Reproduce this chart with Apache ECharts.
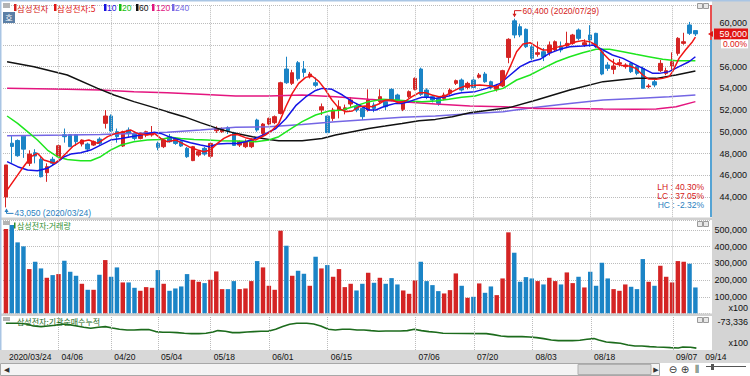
<!DOCTYPE html>
<html>
<head>
<meta charset="utf-8">
<script src="https://cdn.jsdelivr.net/npm/echarts@6/dist/echarts.min.js"></script>
<style>
html, body { margin: 0; padding: 0; background: #fff; }
#chart { width: 750px; height: 376px; }
</style>
</head>
<body>
<div id="chart"></div>
<script>
// trading days shown on the chart (last two slots are empty room on the right)
var dates = ['03/24','03/25','03/26','03/27','03/30','03/31',
  '04/01','04/02','04/03','04/06','04/07','04/08','04/09','04/10','04/13','04/14','04/16','04/17','04/20','04/21','04/22','04/23','04/24','04/27','04/28','04/29',
  '05/04','05/06','05/07','05/08','05/11','05/12','05/13','05/14','05/15','05/18','05/19','05/20','05/21','05/22','05/25','05/26','05/27','05/28','05/29',
  '06/01','06/02','06/03','06/04','06/05','06/08','06/09','06/10','06/11','06/12','06/15','06/16','06/17','06/18','06/19','06/22','06/23','06/24','06/25','06/26','06/29','06/30',
  '07/01','07/02','07/03','07/06','07/07','07/08','07/09','07/10','07/13','07/14','07/15','07/16','07/17','07/20','07/21','07/22','07/23','07/24','07/27','07/28','07/29','07/30','07/31',
  '08/03','08/04','08/05','08/06','08/07','08/10','08/11','08/12','08/13','08/14','08/18','08/19','08/20','08/21','08/24','08/25','08/26','08/27','08/28','08/31',
  '09/01','09/02','09/03','09/04','09/07','09/08','09/09','09/10','09/11','09/14',''];
var labelDays = [0, 9, 18, 26, 35, 45, 55, 70, 80, 90, 100, 114, 119];
var gridDays = [9, 18, 26, 35, 45, 55, 70, 80, 90, 100, 114];
var hiddenPriceTicks = [58000]; // covered by the current price tag

var opens = [44000,48950,49200,49600,47100,48080,47470,46240,47470,47710,
  49730,49730,49730,48870,48870,48780,49330,50775,51450,50010,
  48690,50160,49850,49390,49700,49700,48930,48630,49550,49400,
  49090,48480,47350,47860,48480,47740,50100,50000,50400,49900,
  48780,48630,48630,51080,49850,50710,50840,51690,55770,54450,
  56350,55770,55060,54510,52000,51450,51230,52000,52000,52550,
  52370,52150,52000,52460,52770,52770,53900,53380,52060,53230,
  53900,55770,53840,53230,53080,53070,53540,54450,54760,54080,
  54760,55010,55310,54600,53900,54210,56840,60200,59660,59420,
  57820,57120,57360,57270,57520,57820,57890,58130,59360,57980,
  58900,59050,57360,56140,55740,56230,55990,56290,55990,55830,
  54150,54600,55620,55370,56050,57210,58130,59820,59300];
var closes = [46950,48650,47800,48400,47950,47770,45870,46790,47100,48720,
  49550,48630,49090,49240,48410,49090,48935,51450,50070,49550,
  50010,49850,49390,49850,50010,49900,48570,49240,49090,48930,
  48690,47710,48630,48170,47950,48930,50310,50220,50100,48750,
  49090,49090,49240,50160,50710,51230,51390,54510,54510,55430,
  54880,55460,55310,54270,52300,49920,52000,52300,52200,52920,
  52000,51390,52920,52150,53230,52310,52920,52770,52770,53690,
  54910,53440,53230,52920,52610,53380,53840,54700,53840,54450,
  54080,55220,54600,54080,54210,55620,58500,58900,58900,57820,
  56750,57270,56900,57980,58280,57520,58130,58900,58590,58190,
  58440,57820,55310,55830,56050,56350,56140,55530,55370,54000,
  54210,54300,56290,55620,56440,58590,58280,59050,59000];
var lows = [43050,47150,47700,47600,46850,47100,45800,45400,46950,47560,
  49000,48600,48700,48650,48150,48700,48800,50300,50000,49000,
  48600,49500,49200,49300,49500,49550,48300,48500,49000,48800,
  48600,47600,47300,47700,47800,47600,49900,49900,49800,48700,
  48600,48500,48500,50000,49700,50600,50700,51600,54400,54300,
  54700,55000,54900,54100,51540,49900,51000,51230,51600,52300,
  51800,51100,51850,51800,52600,52000,52800,52600,51900,53100,
  53800,53300,53000,52700,52400,52900,53400,54300,53700,53900,
  53900,54900,54500,53900,53700,54100,56300,58600,58700,57700,
  56600,56900,56500,57000,57400,57300,57800,58000,58400,57800,
  57800,57700,55200,55600,55300,56000,55800,55400,55200,54000,
  54000,54100,55500,55200,55700,57000,58000,58900,58800];
var highs = [46950,49600,49300,49700,48300,48400,47700,47100,47700,48850,
  50300,49800,49800,49300,49000,49200,49500,52000,51600,50300,
  50100,50400,50000,49950,50100,50530,49100,49300,49800,49500,
  49200,48600,48700,48300,48600,49000,50500,50400,50500,50000,
  49200,49300,49400,51200,50800,51300,51500,54600,56900,55700,
  56500,56500,55500,55000,52600,51500,52200,52900,52500,53200,
  52600,52300,53900,52700,53900,53000,54000,53500,52900,53800,
  55000,55900,54000,53400,53200,53600,54000,54800,54900,54600,
  55000,55400,55500,54700,54400,55700,58600,60400,59900,59500,
  58000,58300,57700,58300,58400,58300,59200,59000,59500,58500,
  59800,59100,57500,56400,56700,56700,56300,56400,56100,56000,
  54400,54800,56600,55900,57300,58700,59100,60100,59300];
// volume, in units of 100 shares
var volumes = [506000,530000,426000,402000,266000,310000,270000,214000,230000,236000,
  316000,250000,226000,178000,142000,142000,232000,320000,220000,276000,
  186000,186000,154000,136000,158000,154000,260000,178000,136000,150000,
  162000,236000,202000,190000,182000,202000,252000,146000,146000,194000,
  146000,150000,194000,314000,276000,166000,142000,496000,406000,226000,
  256000,238000,166000,340000,270000,290000,220000,266000,158000,178000,
  138000,178000,244000,184000,214000,178000,212000,174000,138000,118000,
  198000,310000,194000,170000,134000,120000,140000,240000,166000,94000,
  100000,180000,124000,162000,110000,210000,486000,364000,190000,218000,
  210000,194000,174000,214000,194000,174000,246000,182000,220000,156000,
  250000,166000,304000,210000,146000,136000,174000,160000,146000,326000,
  190000,166000,286000,220000,186000,314000,310000,298000,156000];

// moving averages: [day index, price]
var ma5 = [[0.2,44640],[2.6,46480],[4.3,47710],[5.4,48020],[6.5,47400],[8.3,47100],[9.1,47400],[10.3,48020],[11.4,48630],[12.8,49090],[14.2,49240],[15.7,48930],[17.4,49550],[18.8,49850],[20.2,50010],[21.4,50160],[22.5,49850],[24.2,49700],[25.4,49850],[26.5,49390],[27.6,49090],[29.1,49240],[30.2,48930],[31.3,48630],[32.8,48320],[33.9,48170],[35,48320],[36.2,48930],[37.3,49390],[38.5,49700],[39.6,49750],[41,49460],[42.7,49240],[44.4,49700],[45.6,50160],[46.7,50770],[47.9,52300],[49,53530],[50.1,54450],[51.3,55000],[52.4,55130],[53.6,54610],[54.7,53840],[55.8,52920],[57,52150],[58.1,51850],[59.3,51910],[60.4,52310],[61.5,52370],[62.7,52310],[63.8,52550],[64.9,52920],[66.1,52920],[67.2,52670],[68.4,52830],[69.5,53230],[70.7,53590],[71.8,53590],[72.9,53380],[74.1,53230],[75.2,53290],[76.4,53690],[77.5,53990],[78.6,54210],[81.1,54300],[83,54210],[84,54080],[85.1,54600],[86.3,55985],[87.4,57360],[88.5,58070],[89.7,58190],[90.8,57820],[91.9,57520],[93,57520],[94.2,57760],[95.3,57890],[96.5,58070],[97.6,58280],[98.7,58380],[99.9,58280],[101,57980],[102.2,57210],[103.3,56600],[104.4,56230],[105.6,56080],[106.7,56050],[107.8,55830],[109,55220],[110,54850],[111.3,54820],[112.4,54910],[113.5,55070],[114.1,55530],[115.2,56750],[116.3,57520],[117.5,58280],[118,58700]];
var ma10 = [[0.2,47250],[2,46790],[3.7,46480],[5.4,46420],[7.1,46640],[8.5,47100],[10,47710],[11.1,47950],[12.8,48080],[14.5,48320],[16.2,48780],[17.9,49240],[19.7,49390],[21.4,49550],[23.1,49700],[25.4,49950],[26.5,49850],[28.2,49490],[29.9,49240],[31.6,49000],[33.3,48780],[34.8,48630],[36.2,48870],[37.9,48930],[39.6,48930],[41,49090],[42.7,49390],[44.4,49800],[46.2,50300],[47.9,51200],[49.6,52400],[51.3,53200],[53,53800],[54.1,53990],[55.8,53900],[57.6,53380],[59.3,52770],[61,52310],[62.1,52000],[63.3,52000],[64.4,52250],[65.6,52460],[66.7,52610],[67.8,52610],[69,52770],[70.1,52980],[71.2,53170],[72.4,53170],[73.5,53070],[74.6,53170],[75.8,53290],[76.9,53470],[78,53590],[80.3,53690],[82.3,53990],[84.6,54450],[86.3,55220],[88,55985],[89.7,56440],[91.4,56660],[93,57210],[94.8,57580],[96.5,57820],[98.7,57890],[100.5,57980],[102.2,57520],[103.8,57060],[105.6,56750],[107.3,56290],[109,55830],[110.7,55370],[111.8,55370],[113.5,55530],[115.2,55985],[116.9,56440],[118,56900]];
var ma20 = [[0.2,51450],[2,50770],[3.7,50010],[5.4,49240],[7.1,48320],[8.8,47710],[10.5,47460],[12.8,47340],[14.5,47340],[16.2,47710],[17.9,48320],[19.7,48780],[21.9,49090],[24.2,49240],[26.5,49300],[28.2,49490],[29.9,49390],[32.2,49300],[34.5,49240],[36.8,49180],[39.6,49150],[42.7,49090],[45,49240],[46.7,49550],[48.4,50160],[50.7,50930],[53,51540],[55.3,51910],[57.6,52000],[59.8,52370],[62.1,52770],[64.4,52980],[66.7,52920],[69,52830],[71.2,52770],[73.5,52830],[75.8,52980],[78,53170],[80.3,53290],[82.9,53690],[85.1,53990],[87.4,54760],[89.7,55220],[91.9,55830],[94.2,56440],[96.5,56900],[98.7,57270],[101,57580],[103.3,57580],[105.6,57360],[107.8,57120],[110,56900],[112.4,56660],[114.7,56540],[116.9,56540],[118,56540]];
var ma60 = [[0.2,56440],[4.8,55985],[10.5,55220],[15.7,53990],[18.5,53380],[21.9,52770],[24.8,52310],[27.6,51850],[30.5,51390],[33.3,50840],[36.2,50310],[39.3,49855],[42.2,49550],[45,49300],[46.7,49180],[50.7,49180],[54.1,49390],[56.4,49700],[59.3,50010],[62.1,50310],[64.9,50530],[67.8,50770],[70.7,51020],[73.5,51140],[76.4,51390],[79.4,51750],[86.3,52245],[90.8,52920],[96.5,53840],[102.2,54610],[107.8,54910],[111.3,54910],[114.7,55220],[118,55590]];
var ma120 = [[0.2,54000],[10.5,53900],[16.2,53840],[21.9,53690],[27.6,53590],[33.3,53440],[39.3,53290],[45,53290],[50.7,53380],[56.4,53230],[62.1,52980],[67.8,52770],[73.5,52550],[79.4,52370],[85.1,52310],[90.8,52150],[96.5,52150],[102.2,52090],[107.8,52060],[111.3,52090],[114.7,52310],[118,52770]];
var ma240 = [[0.2,49640],[10.5,49700],[16.2,49760],[21.9,49850],[27.6,49950],[33.3,50160],[39.3,50410],[45,50470],[50.7,50680],[56.4,50930],[62.1,51140],[67.8,51330],[73.5,51450],[79.4,51650],[85.1,51850],[90.8,52245],[96.5,52610],[102.2,52920],[107.8,53070],[113.5,53230],[118,53380]];
// institutional cumulative net buying (x100): [day index, value]
var instCum = [[0,-73336],[2,-73336],[3.5,-76700],[4.7,-86700],[6,-90000],[7.2,-86700],[8.4,-83300],[9.6,-76700],[10.8,-80000],[12.1,-86700],[13.3,-93300],[14.5,-98300],[15.8,-93300],[17,-90000],[18.2,-96700],[19.4,-103300],[20.7,-106700],[21.9,-106700],[23.1,-105000],[24.4,-105000],[25.6,-115000],[26.8,-118300],[28,-118300],[29.3,-120000],[30.5,-123300],[31.7,-125000],[33,-125000],[34.2,-123300],[35.4,-116700],[36.2,-110000],[37.5,-113300],[38.7,-120000],[39.9,-120000],[41.2,-116700],[42.4,-115000],[43.6,-113300],[44.8,-113300],[46.1,-103300],[47.3,-90000],[48.5,-78300],[49.7,-73300],[51.4,-73300],[52.6,-76700],[53.8,-86700],[55.1,-103300],[56.3,-106700],[57.5,-103300],[58.8,-103300],[60,-106700],[61.2,-106700],[62.4,-110000],[63.7,-113300],[64.9,-111700],[67.4,-111700],[68.6,-110000],[69.8,-103300],[71,-110000],[72.3,-115000],[73.5,-118300],[74.7,-123300],[82.1,-125000],[83.3,-130000],[84.6,-136700],[85.8,-140000],[88.2,-140000],[89.5,-141700],[90.7,-145000],[91.9,-150000],[93.2,-156700],[94.4,-160000],[96.8,-160000],[98.1,-158300],[99.3,-153300],[100.5,-150000],[101.3,-156700],[102.6,-166700],[103.8,-170000],[105,-173300],[106.3,-181700],[107.5,-186700],[108.7,-186700],[110,-190000],[111.2,-191700],[112.4,-193300],[113.6,-195000],[114.9,-196700],[115.7,-191700],[117,-193300],[118,-197500]];

var RED = '#d42424', BLUE = '#1b84c6';
var FONT = "'Liberation Sans','Noto Sans CJK KR',sans-serif";
var KFONT = "'Noto Sans CJK KR','Liberation Sans',sans-serif";
var GRIDLINE = { type: 'dotted', color: '#bcbcbc', width: 1 };

var candles = opens.map(function (o, i) { return [o, closes[i], lows[i], highs[i]]; });
var volData = volumes.map(function (v, i) {
  return { value: v, itemStyle: { color: closes[i] >= opens[i] ? RED : BLUE } };
});

var chart = echarts.init(document.getElementById('chart'), null, { renderer: 'svg' });

function vlines() {
  return {
    silent: true, symbol: 'none', label: { show: false }, lineStyle: GRIDLINE,
    data: gridDays.map(function (d) { return { xAxis: d }; })
  };
}
function maLine(name, data, color) {
  return {
    name: name, type: 'line', xAxisIndex: 3, yAxisIndex: 0, data: data,
    showSymbol: false, silent: true, z: 4,
    lineStyle: { color: color, width: 1.5 }
  };
}
function plainCat(grid) {
  return {
    type: 'category', gridIndex: grid, data: dates, boundaryGap: true,
    axisLine: { show: false }, axisTick: { show: false }, axisLabel: { show: false }, splitLine: { show: false }
  };
}
function rightAxis(grid, min, max, interval, lo, hi, hidden) {
  return {
    type: 'value', gridIndex: grid, position: 'right', min: min, max: max, interval: interval,
    axisLine: { show: false }, axisTick: { show: false },
    splitLine: { lineStyle: GRIDLINE },
    axisLabel: {
      margin: 37, align: 'right', fontSize: 9, color: '#111', fontFamily: FONT,
      formatter: function (v) {
        if (v < lo || v > hi || (hidden && hidden.indexOf(v) >= 0)) return '';
        return echarts.format.addCommas(v);
      }
    }
  };
}

var option = {
  animation: false,
  textStyle: { fontFamily: FONT },
  grid: [
    { left: 3, width: 708, top: 5.6, height: 213.2 },
    { left: 3, width: 708, top: 220, height: 93.5 },
    { left: 3, width: 708, top: 316, height: 34 }
  ],
  xAxis: [
    plainCat(0), plainCat(1),
    {
      type: 'category', gridIndex: 2, data: dates, boundaryGap: true,
      axisLine: { show: false }, axisTick: { show: false }, splitLine: { show: false },
      axisLabel: {
        show: true, fontSize: 8.5, color: '#111', fontFamily: FONT, margin: 3,
        align: 'left', padding: [0, 0, 0, 3],
        interval: function (i) { return labelDays.indexOf(i) >= 0; },
        formatter: function (v, i) { return i === 0 ? '2020/' + v : v; }
      }
    },
    { type: 'value', gridIndex: 0, min: -0.5, max: dates.length - 0.5, show: false },
    { type: 'value', gridIndex: 2, min: -0.5, max: dates.length - 0.5, show: false }
  ],
  yAxis: [
    rightAxis(0, 42000, 61600, 2000, 44000, 60000, hiddenPriceTicks),
    rightAxis(1, 0, 560000, 100000, 100000, 500000),
    { type: 'value', gridIndex: 2, position: 'right', min: -207000, max: -37000, show: false }
  ],
  series: [
    {
      name: '삼성전자', type: 'candlestick', xAxisIndex: 0, yAxisIndex: 0, data: candles,
      barWidth: 4, z: 3,
      itemStyle: { color: RED, color0: BLUE, borderColor: RED, borderColor0: BLUE, borderWidth: 1 }
    },
    maLine('240', ma240, '#7466e4'),
    maLine('120', ma120, '#e4157f'),
    maLine('60', ma60, '#111111'),
    maLine('20', ma20, '#1ee61e'),
    maLine('10', ma10, '#1414e6'),
    maLine('삼성전자:5', ma5, '#f01414'),
    {
      name: 'grid0', type: 'line', xAxisIndex: 0, yAxisIndex: 0, data: [], z: 1, markLine: vlines()
    },
    {
      name: '거래량', type: 'bar', xAxisIndex: 1, yAxisIndex: 1, data: volData, barWidth: '76%', z: 3,
      markLine: vlines()
    },
    {
      name: '기관순매수누적', type: 'line', xAxisIndex: 4, yAxisIndex: 2, data: instCum,
      showSymbol: false, silent: true, z: 3, lineStyle: { color: '#1c6b1c', width: 1.6 }
    },
    {
      name: 'grid2', type: 'line', xAxisIndex: 2, yAxisIndex: 2, data: [], z: 1, markLine: vlines()
    }
  ]
};
chart.setOption(option);

function txt(id, x, y, text, color, size, align, family, z) {
  return {
    type: 'text', id: id, x: x, y: y, z: z || 50,
    style: { text: text, fill: color, fontSize: size, fontFamily: family || FONT, align: align || 'left', verticalAlign: 'middle' }
  };
}
function box(id, x, y, w, h, fill, z, stroke) {
  return { type: 'rect', id: id, z: z === undefined ? -1 : z, shape: { x: x, y: y, width: w, height: h },
    style: { fill: fill, stroke: stroke || null, lineWidth: 1 } };
}

var legendItems = [
  { t: '삼성전자', c: '#d42020', bx: 14, tx: 17 },
  { t: '삼성전자:5', c: '#e01414', bx: 54, tx: 57 },
  { t: '10', c: '#1414e0', bx: 104, tx: 107 },
  { t: '20', c: '#10c010', bx: 119, tx: 122 },
  { t: '60', c: '#111111', bx: 136, tx: 139 },
  { t: '120', c: '#e0157f', bx: 152, tx: 156 },
  { t: '240', c: '#7466e4', bx: 172, tx: 175 }
];

function build() {
  var hi = chart.convertToPixel({ seriesIndex: 0 }, [87, 60400]);
  var lo = chart.convertToPixel({ seriesIndex: 0 }, [0, 43050]);
  var cur = chart.convertToPixel({ seriesIndex: 0 }, [118, 59000]);
  var hx = Math.round(hi[0]) + 0.5, hy = hi[1];
  var lx = Math.round(lo[0]) + 0.5, ly = lo[1];
  var cy = cur[1];

  var g = [
    box('strip', 712, 0, 38, 350, '#d4d4d4'),
    box('xstrip', 0, 350, 750, 13, '#d8d8d8'),
    box('sep1', 0, 217.5, 712, 2.5, '#d0d0d0', 5),
    box('sep2', 0, 313.5, 712, 2.5, '#d0d0d0', 5),
    box('topb', 0, 0, 750, 1.5, '#a9c5e4', 5),
    box('leftb', 0, 0, 1.5, 350, '#a9c5e4', 5),
    // panel icons
    box('ic0', 3, 3, 7, 5, '#b4b4b4', 6),
    box('ic1', 3, 221, 7, 4, '#b4b4b4', 6),
    box('ic2', 3, 317, 7, 4, '#b4b4b4', 6),
    box('btA0', 697.5, 3.5, 5, 5, '#e8e8e8', 6, '#9a9a9a'),
    box('btB0', 703.5, 3.5, 5, 5, '#e8e8e8', 6, '#9a9a9a'),
    box('btA1', 697.5, 221.5, 5, 5, '#e8e8e8', 6, '#9a9a9a'),
    box('btB1', 703.5, 221.5, 5, 5, '#e8e8e8', 6, '#9a9a9a'),
    box('btA2', 697.5, 317.5, 5, 5, '#e8e8e8', 6, '#9a9a9a'),
    box('btB2', 703.5, 317.5, 5, 5, '#e8e8e8', 6, '#9a9a9a'),
    box('ho', 3, 12, 12, 11, '#5b7fa6', 6),
    txt('hoT', 9, 17.5, '호', '#ffffff', 8, 'center', KFONT),
    // panel titles
    txt('volT', 17, 225.5, '삼성전자:거래량', '#2f8f2f', 8, 'left', KFONT),
    box('volTk', 14, 222.5, 1.5, 6, '#2f8f2f', 6),
    txt('instT', 17, 321.5, '삼성전자:기관순매수누적', '#1c6b1c', 8, 'left', KFONT),
    // right side unit texts
    txt('vx100', 748, 308, 'x100', '#111', 9, 'right'),
    txt('imax', 748, 322, '-73,336', '#111', 9, 'right'),
    txt('ix100', 748, 343, 'x100', '#111', 9, 'right'),
    // range statistics
    txt('lh', 704, 186.5, 'LH : 40.30%', '#d42020', 8.5, 'right'),
    txt('lc', 704, 195.5, 'LC : 37.05%', '#d42020', 8.5, 'right'),
    txt('hc', 704, 204.5, 'HC : -2.32%', '#2a7fc0', 8.5, 'right'),
    // highest / lowest marks
    { type: 'polyline', id: 'hiL', z: 50, shape: { points: [[hx, hy - 2], [hx, hy - 8], [hx + 7, hy - 8]] }, style: { stroke: '#d42020', lineWidth: 1, fill: null } },
    { type: 'polygon', id: 'hiA', z: 50, shape: { points: [[hx - 2, hy - 5], [hx + 2, hy - 5], [hx, hy - 1.5]] }, style: { fill: '#d42020' } },
    txt('hiT', hx + 8, hy - 7.5, '60,400 (2020/07/29)', '#d42020', 8.5, 'left'),
    { type: 'polyline', id: 'loL', z: 50, shape: { points: [[lx, ly + 2], [lx, ly + 6], [lx + 7, ly + 6]] }, style: { stroke: '#2a7fc0', lineWidth: 1, fill: null } },
    { type: 'polygon', id: 'loA', z: 50, shape: { points: [[lx - 2, ly + 4.5], [lx + 2, ly + 4.5], [lx, ly + 1]] }, style: { fill: '#2a7fc0' } },
    txt('loT', lx + 8, ly + 6, '43,050 (2020/03/24)', '#2a7fc0', 8.5, 'left'),
    // plot edge and current price tag
    { type: 'line', id: 'edgeR', z: 40, shape: { x1: 711, y1: 5, x2: 711, y2: cy + 6 }, style: { stroke: '#e01414', lineWidth: 1.5 } },
    { type: 'line', id: 'edgeB', z: 40, shape: { x1: 711, y1: cy + 6, x2: 711, y2: 217 }, style: { stroke: '#1b84c6', lineWidth: 1.5 } },
    box('curBox', 714, cy - 5.5, 34, 11, '#e01414', 60),
    txt('curT', 747, cy + 0.5, '59,000', '#ffffff', 9, 'right', FONT, 70),
    box('pctBox', 721, cy + 5.5, 27, 9, '#ffffff', 60),
    txt('pctT', 747, cy + 10, '0.00%', '#e01414', 8.5, 'right', FONT, 70),
    { type: 'polygon', id: 'curA', z: 60, shape: { points: [[708, cy], [713, cy - 3], [713, cy + 3]] }, style: { fill: '#e01414' } },
    // scroll bar
    box('sbTrack', 0.5, 363.5, 659, 12, '#f4f4f4', 5, '#a8a8a8'),
    box('sbThumb', 578, 364.5, 73, 10, '#d6d6d6', 6, '#b0b0b0'),
    txt('sbL', 4, 369.5, '◀', '#333', 7, 'left', "'DejaVu Sans'"),
    txt('sbR', 656, 369.5, '▶', '#333', 7, 'center', "'DejaVu Sans'"),
    txt('zm1', 673, 369.5, '⊖', '#333', 10, 'center', "'DejaVu Sans'"),
    txt('zm2', 685, 369.5, '⊕', '#333', 10, 'center', "'DejaVu Sans'"),
    txt('zm3', 697, 369, '⫼', '#333', 9, 'center', "'DejaVu Sans'"),
    { type: 'line', id: 'sl', z: 6, shape: { x1: 706, y1: 366.5, x2: 746, y2: 366.5 }, style: { stroke: '#555', lineWidth: 1 } },
    box('slK', 711, 364, 3, 6, '#555', 7)
  ];
  legendItems.forEach(function (it, k) {
    g.push(box('lgB' + k, it.bx, 4, 2.5, 7, it.c, 6));
    g.push(txt('lgT' + k, it.tx, 7.5, it.t, it.c, 8.5, 'left', /[가-힣]/.test(it.t) ? KFONT : FONT));
  });
  chart.setOption({ graphic: g });
}
build();
</script>
</body>
</html>
